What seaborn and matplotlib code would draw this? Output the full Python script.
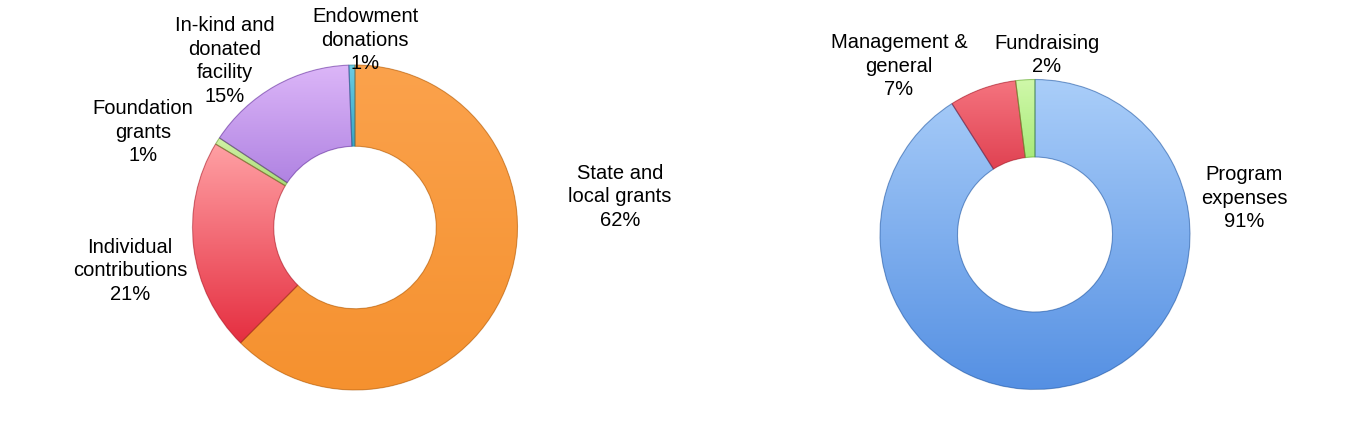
import numpy as np
import matplotlib
matplotlib.use("Agg")
import matplotlib.pyplot as plt
import matplotlib.patches as mpatches
from matplotlib.colors import LinearSegmentedColormap
import seaborn as sns

# ---------------- data ----------------
income_labels = ["State and\nlocal grants", "Individual\ncontributions", "Foundation\ngrants",
                 "In-kind and\ndonated\nfacility", "Endowment\ndonations"]
income_values = [62, 21, 0.7, 15, 0.6]
income_top = ["#FBA24C", "#FFA0A4", "#D2F2A6", "#DCB6F8", "#6CCCE2"]
income_bottom = ["#F5912F", "#E52E40", "#A9DC78", "#B083E2", "#36A6C6"]

expense_labels = ["Program\nexpenses", "Management &\ngeneral", "Fundraising"]
expense_values = [91, 7, 2]
expense_top = ["#AACEF9", "#F5747F", "#D0F8AA"]
expense_bottom = ["#5590E3", "#E04252", "#A8EA7A"]

# ---------------- figure ----------------
sns.set_theme(style="white")
plt.rcParams["font.family"] = ["Liberation Sans", "DejaVu Sans"]

W, H = 1353, 426
fig = plt.figure(figsize=(W / 100, H / 100), dpi=100)
ax = fig.add_axes([0, 0, 1, 1])


def donut(ax, values, tops, bottoms, center, radius):
    wedges, _ = ax.pie(values, startangle=90, counterclock=False, center=center,
                       radius=radius, colors=tops,
                       wedgeprops=dict(width=radius * 0.5, linewidth=0))
    for w, c1, c2 in zip(wedges, tops, bottoms):
        ext = w.get_path().get_extents()
        cmap = LinearSegmentedColormap.from_list("g", [c2, c1])
        grad = np.linspace(0, 1, 256).reshape(-1, 1)
        im = ax.imshow(grad, cmap=cmap, origin="lower", aspect="auto",
                       extent=[ext.x0, ext.x1, ext.y0, ext.y1], zorder=2,
                       interpolation="bilinear")
        im.set_clip_path(w)
        edge = mpatches.Wedge(w.center, w.r, w.theta1, w.theta2, width=w.width,
                              fill=False, edgecolor=sns.set_hls_values(c2, l=0.35),
                              linewidth=0.8, alpha=0.5, zorder=3)
        ax.add_patch(edge)
    return wedges


donut(ax, income_values, income_top, income_bottom, (355, H - 227.5), 162.5)
donut(ax, expense_values, expense_top, expense_bottom, (1035, H - 234.5), 155)

ax.set_xlim(0, W)
ax.set_ylim(0, H)
ax.set_aspect("auto")
ax.axis("off")

fs = 14.5
ls = 1.3
# label centres (pixels, y measured from top)
income_pos = [(620, 197), (130, 271), (143, 132), (225, 61), (365, 40)]
for lab, v, (x, y) in zip(income_labels, income_values, income_pos):
    ax.text(x, H - y, f"{lab}\n{v:.0f}%", ha="center", va="center", fontsize=fs,
            color="black", linespacing=ls)

expense_pos = [(1244, 198), (899, 66), (1047, 55)]
for lab, v, (x, y) in zip(expense_labels, expense_values, expense_pos):
    ax.text(x, H - y, f"{lab}\n{v:.0f}%", ha="center", va="center", fontsize=fs,
            color="black", linespacing=ls)

fig.savefig("out.png", dpi=100, facecolor="white")
